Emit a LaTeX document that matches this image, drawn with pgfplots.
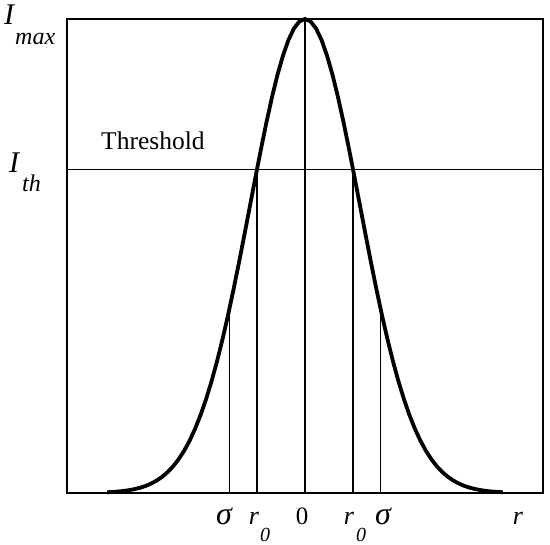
\documentclass[border=0pt]{standalone}
\usepackage{pgfplots}
\pgfplotsset{compat=1.18}
\usepackage{fontspec}
\setmainfont{Liberation Serif}

% intensity profile, x in units of the Gaussian width
\pgfplotstableread{
x y
-3.6 0.00153
-3.5 0.00219
-3.4 0.00309
-3.3 0.00432
-3.2 0.00598
-3.1 0.00819
-3.0 0.01111
-2.9 0.01492
-2.8 0.01984
-2.7 0.02612
-2.6 0.03405
-2.5 0.04394
-2.4 0.05613
-2.3 0.07100
-2.2 0.08892
-2.1 0.11025
-2.0 0.13534
-1.9 0.16447
-1.8 0.19790
-1.7 0.23575
-1.6 0.27804
-1.5 0.32465
-1.4 0.37531
-1.3 0.42956
-1.2 0.48675
-1.1 0.54607
-1.0 0.60653
-0.9 0.66698
-0.8 0.72615
-0.7 0.78270
-0.6 0.83527
-0.5 0.88250
-0.4 0.92312
-0.3 0.95600
-0.2 0.98020
-0.1 0.99501
0.0 1.00000
0.1 0.99501
0.2 0.98020
0.3 0.95600
0.4 0.92312
0.5 0.88250
0.6 0.83527
0.7 0.78270
0.8 0.72615
0.9 0.66698
1.0 0.60653
1.1 0.54607
1.2 0.48675
1.3 0.42956
1.4 0.37531
1.5 0.32465
1.6 0.27804
1.7 0.23575
1.8 0.19790
1.9 0.16447
2.0 0.13534
2.1 0.11025
2.2 0.08892
2.3 0.07100
2.4 0.05613
2.5 0.04394
2.6 0.03405
2.7 0.02612
2.8 0.01984
2.9 0.01492
3.0 0.01111
3.1 0.00819
3.2 0.00598
3.3 0.00432
3.4 0.00309
3.5 0.00219
3.6 0.00153
}\profile

\begin{document}
\begin{tikzpicture}
\begin{axis}[
    scale only axis,
    width=476pt, height=474pt,
    xmin=-4.33, xmax=4.33,
    ymin=0, ymax=1,
    xtick=\empty, ytick=\empty,
    axis line style={line width=1.2pt},
    clip=false,
]
    \addplot[black, line width=3.8pt] table {\profile};
    % threshold
    \addplot[black, line width=1.1pt] coordinates {(-4.33,0.683) (4.33,0.683)};
    % verticals
    \addplot[black, line width=1.1pt] coordinates {(0,0) (0,1)};
    \addplot[black, line width=1.1pt] coordinates {(-0.873,0) (-0.873,0.683)};
    \addplot[black, line width=1.1pt] coordinates {(0.873,0) (0.873,0.683)};
    \addplot[black, line width=1.1pt] coordinates {(-1.38,0) (-1.38,0.386)};
    \addplot[black, line width=1.1pt] coordinates {(1.38,0) (1.38,0.386)};
    \coordinate (tl) at (rel axis cs:0,1);
\end{axis}
\begin{scope}[shift={(tl)}, x=1pt, y=-1pt,
    every node/.style={inner sep=0pt, anchor=base west, font=\fontsize{25}{29}\selectfont}]
    \node[font=\fontsize{30}{34}\selectfont\itshape] at (-63,6) {I};
    \node[font=\fontsize{24}{28}\selectfont\itshape] at (-52,26) {max};
    \node[font=\fontsize{30}{34}\selectfont\itshape] at (-58,154) {I};
    \node[font=\fontsize{24}{28}\selectfont\itshape] at (-45,173) {th};
    \node[font=\fontsize{25.5}{29}\selectfont] at (34,131) {Threshold};
    \node[anchor=base, font=\fontsize{32}{36}\selectfont\itshape] at (157,506) {σ};
    \node[anchor=base, font=\fontsize{26}{30}\selectfont\itshape] at (187,506) {r};
    \node[anchor=base, font=\fontsize{20}{24}\selectfont\itshape] at (198,523) {0};
    \node[anchor=base] at (235,506) {0};
    \node[anchor=base, font=\fontsize{26}{30}\selectfont\itshape] at (282,506) {r};
    \node[anchor=base, font=\fontsize{20}{24}\selectfont\itshape] at (294,523) {0};
    \node[anchor=base, font=\fontsize{32}{36}\selectfont\itshape] at (316,506) {σ};
    \node[anchor=base, font=\fontsize{26}{30}\selectfont\itshape] at (451,506) {r};
    \pgfresetboundingbox
    \path[use as bounding box] (-67,-19) rectangle (483,526);
\end{scope}
\end{tikzpicture}
\end{document}
